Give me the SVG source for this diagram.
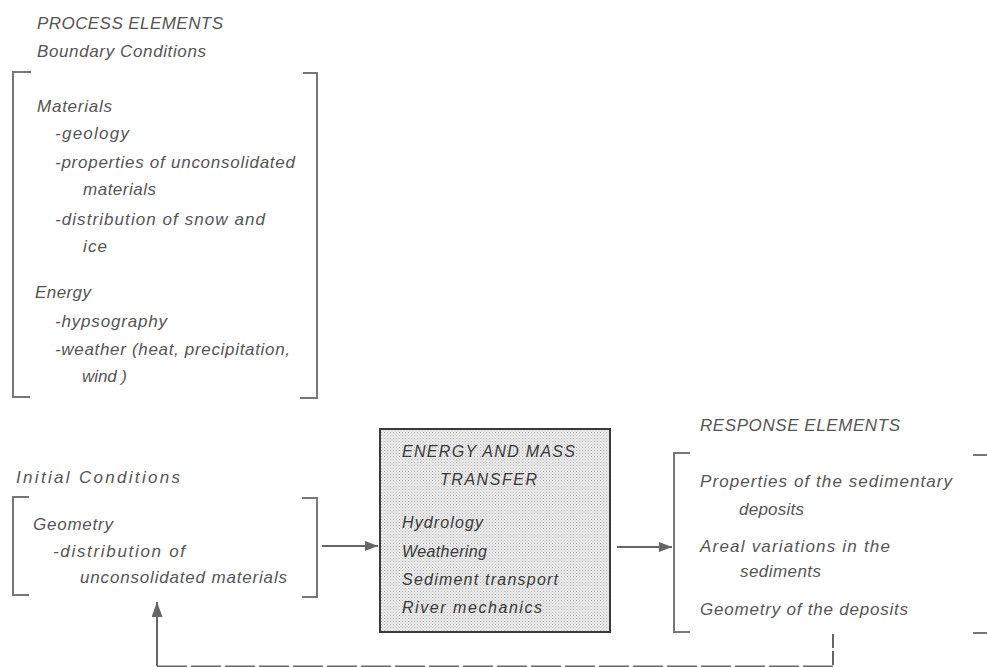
<svg xmlns="http://www.w3.org/2000/svg" width="987" height="667" viewBox="0 0 987 667">
<style>
text{font-family:"Liberation Sans",Arial,sans-serif;font-style:italic;fill:#555;font-size:17px}
.bx text{fill:#3a3a3a;font-size:16px}
.br{fill:none;stroke:#777;stroke-width:2}
.cn{fill:none;stroke:#666;stroke-width:2}
</style>
<defs>
<pattern id="dots" width="3" height="3" patternUnits="userSpaceOnUse">
<rect width="3" height="3" fill="#ececec"/>
<rect x="0" y="0" width="1" height="1" fill="#b4b4b4"/>
<rect x="1.5" y="1.5" width="1" height="1" fill="#c4c4c4"/>
</pattern>
<marker id="ah" markerWidth="14" markerHeight="10" refX="13" refY="5" orient="auto" markerUnits="userSpaceOnUse">
<path d="M0,0 L13,5 L0,10 Z" fill="#666"/>
</marker>
<marker id="ahu" markerWidth="16" markerHeight="11" refX="15" refY="5.5" orient="auto" markerUnits="userSpaceOnUse">
<path d="M0,0 L15,5.5 L0,11 Z" fill="#666"/>
</marker>
</defs>
<rect width="987" height="667" fill="#fff"/>

<g id="boundary-conditions">
<text x="37" y="29" textLength="186">PROCESS ELEMENTS</text>
<text x="37" y="57" textLength="169">Boundary Conditions</text>
<path class="br" d="M31,72 H13 V397 H30"/>
<path class="br" d="M303,73 H317 V398 H300"/>
<text x="37" y="112" textLength="75">Materials</text>
<text x="55" y="139" textLength="74">-geology</text>
<text x="55" y="168" textLength="240">-properties of unconsolidated</text>
<text x="83" y="195" textLength="73">materials</text>
<text x="55" y="225" textLength="210">-distribution of snow and</text>
<text x="83" y="252" textLength="24">ice</text>
<text x="35" y="298" textLength="56">Energy</text>
<text x="55" y="327" textLength="112">-hypsography</text>
<text x="55" y="355" textLength="235">-weather (heat, precipitation,</text>
<text x="82" y="382" textLength="45">wind )</text>
</g>

<g id="initial-conditions">
<text x="16" y="483" textLength="164">Initial Conditions</text>
<path class="br" d="M29,497 H13 V595 H29"/>
<path class="br" d="M302,498 H317 V597 H302"/>
<text x="33" y="530" textLength="80">Geometry</text>
<text x="53" y="557" textLength="132">-distribution of</text>
<text x="80" y="583" textLength="207">unconsolidated materials</text>
</g>

<g id="energy-mass-transfer" class="bx">
<rect x="380" y="429" width="230" height="203" fill="url(#dots)" stroke="#3a3a3a" stroke-width="2"/>
<text x="402" y="457" textLength="173">ENERGY AND MASS</text>
<text x="440" y="485" textLength="97">TRANSFER</text>
<text x="402" y="528" textLength="81">Hydrology</text>
<text x="402" y="557" textLength="85">Weathering</text>
<text x="402" y="585" textLength="156">Sediment transport</text>
<text x="402" y="613" textLength="140">River mechanics</text>
</g>

<g id="response-elements">
<text x="700" y="431" textLength="200">RESPONSE ELEMENTS</text>
<path class="br" d="M690,453 H674 V632 H690"/>
<path class="br" d="M973,455 H987 M973,633 H987"/>
<text x="700" y="487" textLength="252">Properties of the sedimentary</text>
<text x="739" y="515" textLength="65">deposits</text>
<text x="700" y="552" textLength="190">Areal variations in the</text>
<text x="740" y="577" textLength="81">sediments</text>
<text x="700" y="615" textLength="208">Geometry of the deposits</text>
</g>

<g id="connectors">
<line class="cn" x1="322" y1="546" x2="378" y2="546" marker-end="url(#ah)"/>
<line class="cn" x1="617" y1="547" x2="672" y2="547" marker-end="url(#ah)" stroke="#777"/>
<path class="cn" d="M833,634 V667" stroke-dasharray="14 3"/>
<path class="cn" d="M833,666.5 H157" stroke-dasharray="30 4" stroke="#888"/>
<line class="cn" x1="157" y1="666" x2="157" y2="602" marker-end="url(#ahu)"/>
</g>
</svg>
